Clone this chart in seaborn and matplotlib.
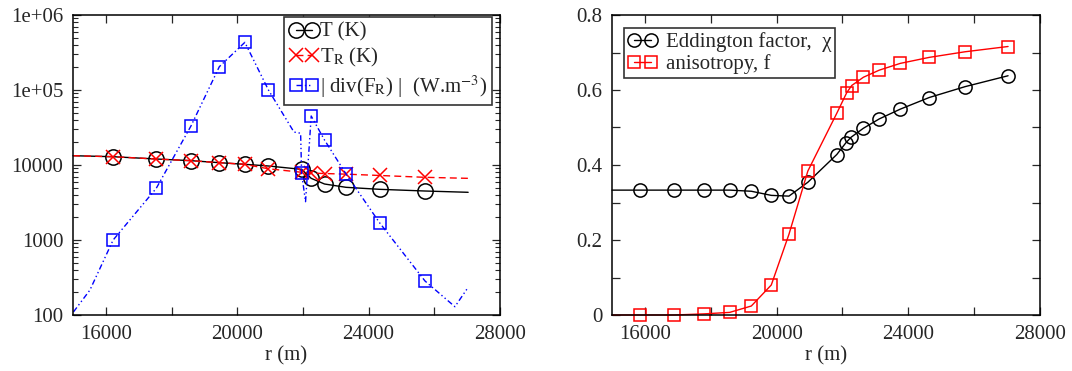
import matplotlib
matplotlib.use("Agg")
import numpy as np
import pandas as pd
import seaborn as sns
import matplotlib.pyplot as plt
from matplotlib.lines import Line2D
from matplotlib.ticker import FixedLocator, MultipleLocator, LogLocator, NullFormatter, FixedFormatter

# ---------------- data ----------------
# Left panel: temperatures and |div(F_R)| versus r (m)
r_T = [15000, 16222, 17535, 18596, 19455, 20232, 20950, 21960, 22252, 22657, 23313, 24333, 25717, 27030]
T = [13300, 12900, 12020, 11420, 10740, 10210, 9700, 8750, 6640, 5580, 5040, 4740, 4500, 4325]
T_marks = [1, 2, 3, 4, 5, 6, 7, 8, 9, 10, 11, 12]

r_TR = [15000, 16222, 17535, 18596, 19455, 20232, 20950, 21960, 22252, 22657, 23313, 24333, 25717, 27030]
T_R = [13300, 12900, 12020, 11420, 10740, 10210, 8900, 8000, 7800, 7700, 7550, 7250, 6850, 6640]
TR_marks = [1, 2, 3, 4, 5, 6, 7, 8, 9, 10, 11, 12]

r_div = [15015, 15515, 16222, 17535, 18596, 19455, 20232, 20950, 21727, 21930, 21960, 22080,
         22252, 22657, 23313, 24333, 25717, 26627, 27030]
div_FR = [110, 215, 1000, 4890, 33400, 204600, 432000, 100000, 27500, 26500, 7740, 3240,
          45000, 21540, 7590, 1700, 284, 129, 234]
div_marks = [2, 3, 4, 5, 6, 7, 10, 12, 13, 14, 15, 16]

# Right panel: Eddington factor and anisotropy versus r (m)
r_chi = [15000, 15848, 16889, 17798, 18576, 19232, 19838, 20374, 20949, 21828, 22111, 22262,
         22636, 23120, 23757, 24636, 25727, 27030]
chi = [0.333, 0.333, 0.333, 0.333, 0.333, 0.330, 0.319, 0.317, 0.354, 0.428, 0.460, 0.474,
       0.498, 0.523, 0.549, 0.580, 0.609, 0.638]
chi_marks = list(range(1, 18))

r_f = [15000, 15848, 16889, 17798, 18576, 19232, 19838, 20374, 20949, 21828, 22130, 22282,
       22636, 23120, 23757, 24636, 25727, 27030]
f_aniso = [0.0, 0.0, 0.0, 0.003, 0.007, 0.024, 0.08, 0.215, 0.384, 0.538, 0.593, 0.612,
           0.634, 0.653, 0.671, 0.687, 0.702, 0.716]
f_marks = list(range(1, 18))

# tick labels
left_yticks = [100, 1000, 10000, 100000, 1000000]
left_yticklabels = ["100", "1000", "10000", "1e+05", "1e+06"]
xticks = [16000, 20000, 24000, 28000]
xticklabels = ["16000", "20000", "24000", "28000"]
right_yticks = [0, 0.2, 0.4, 0.6, 0.8]
right_yticklabels = ["0", "0.2", "0.4", "0.6", "0.8"]

label_T = "T (K)"
label_TR = "T$_\\mathrm{R}$ (K)"
label_div = "| div(F$_\\mathrm{R}$) |  (W.m$^{\\mathrm{-3}}$)"
label_chi = "Eddington factor,  χ"
label_f = "anisotropy, f"
xlabel = "r (m)"

# ---------------- style ----------------
sns.set_theme(style="ticks")
plt.rcParams["font.family"] = ["Liberation Serif", "DejaVu Serif"]
plt.rcParams["mathtext.fontset"] = "stix"
plt.rcParams.update({
    "xtick.direction": "in", "ytick.direction": "in",
    "xtick.top": True, "ytick.right": True,
    "axes.linewidth": 1.1,
    "font.size": 15,
})

FS = 15
BLUE = "#0000ff"
fig = plt.figure(figsize=(10.72, 3.71), dpi=100)
axL = fig.add_axes([73 / 1072, 56 / 371, 427 / 1072, 300 / 371])
axR = fig.add_axes([612 / 1072, 56 / 371, 428 / 1072, 300 / 371])

axL.set_yscale("log")

mk_common = dict(markerfacecolor="none", markeredgewidth=1.1, estimator=None, sort=False,
                 clip_on=False)

sns.lineplot(x=r_T, y=T, ax=axL, color="black", linewidth=1.0, marker="o", markersize=11,
             markeredgecolor="black", markevery=T_marks, **mk_common)
sns.lineplot(x=r_TR, y=T_R, ax=axL, color="red", linewidth=1.0, linestyle=(0, (5, 3)),
             marker="x", markersize=9.5, markeredgecolor="red", markevery=TR_marks, **mk_common)
sns.lineplot(x=r_div, y=div_FR, ax=axL, color=BLUE, linewidth=1.0,
             linestyle=(0, (4, 2, 1, 2, 1, 2)), marker="s", markersize=9,
             markeredgecolor=BLUE, markevery=div_marks, **mk_common)

sns.lineplot(x=r_chi, y=chi, ax=axR, color="black", linewidth=1.0, marker="o", markersize=9.5,
             markeredgecolor="black", markevery=chi_marks, **mk_common)
sns.lineplot(x=r_f, y=f_aniso, ax=axR, color="red", linewidth=1.0, marker="s", markersize=8,
             markeredgecolor="red", markevery=f_marks, **mk_common)

# ---------------- axes ----------------
for ax in (axL, axR):
    ax.set_xlim(15000, 28000)
    ax.xaxis.set_major_locator(FixedLocator(xticks))
    ax.xaxis.set_major_formatter(FixedFormatter(xticklabels))
    ax.xaxis.set_minor_locator(MultipleLocator(2000))
    ax.set_xlabel(xlabel, fontsize=FS, labelpad=2)
    ax.set_ylabel("")
    ax.tick_params(axis="both", which="major", length=6, width=0.9, labelsize=FS, pad=7,
                   direction="in", top=True, right=True)
    ax.tick_params(axis="x", which="minor", length=6, width=0.9, direction="in", top=True)
    for s in ax.spines.values():
        s.set_linewidth(1.1)
        s.set_color("black")
        s.set_zorder(5)

axL.set_ylim(100, 1e6)
axL.yaxis.set_major_locator(FixedLocator(left_yticks))
axL.yaxis.set_major_formatter(FixedFormatter(left_yticklabels))
axL.yaxis.set_minor_locator(LogLocator(base=10, subs=np.arange(2, 10)))
axL.yaxis.set_minor_formatter(NullFormatter())
axL.tick_params(axis="y", which="minor", length=3.5, width=0.8, direction="in", right=True)

axR.set_ylim(0, 0.8)
axR.yaxis.set_major_locator(FixedLocator(right_yticks))
axR.yaxis.set_major_formatter(FixedFormatter(right_yticklabels))
axR.yaxis.set_minor_locator(MultipleLocator(0.1))
axR.tick_params(axis="y", which="minor", length=6, width=0.9, direction="in", right=True)

# ---------------- legends ----------------
def handle(color, marker, ms, ls="-"):
    return Line2D([], [], color=color, linewidth=1.0, linestyle=ls, marker=marker, markersize=ms,
                  markerfacecolor="none", markeredgecolor=color, markeredgewidth=1.1)

hL = [handle("black", "o", 11), handle("red", "x", 9.5, (0, (5, 3))),
      handle(BLUE, "s", 9, (0, (4, 2, 1, 2, 1, 2)))]
legL = axL.legend(hL, [label_T, label_TR, label_div], loc="upper right",
                  bbox_to_anchor=(0.981, 0.993), borderaxespad=0, numpoints=2,
                  handlelength=1.4, handletextpad=0.05, labelspacing=0.2, borderpad=0.25,
                  fontsize=FS, fancybox=False, framealpha=1, edgecolor="#333333")
legL.get_frame().set_linewidth(1.2)

hR = [handle("black", "o", 9.5), handle("red", "s", 8)]
legR = axR.legend(hR, [label_chi, label_f], loc="upper left",
                  bbox_to_anchor=(0.028, 0.957), borderaxespad=0, numpoints=2,
                  handlelength=1.4, handletextpad=0.4, labelspacing=0.1, borderpad=0.2,
                  fontsize=FS, fancybox=False, framealpha=1, edgecolor="#333333")
legR.get_frame().set_linewidth(1.2)

fig.savefig("out.png", dpi=100)
